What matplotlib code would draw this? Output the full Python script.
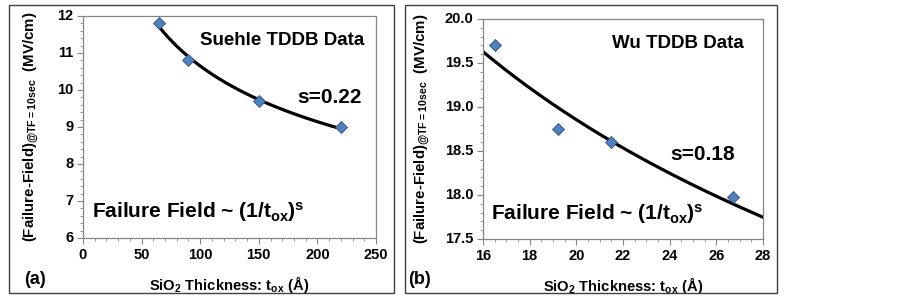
import numpy as np
import matplotlib.pyplot as plt
from matplotlib.patches import Rectangle
from matplotlib.ticker import MultipleLocator

# panel (a) - Suehle TDDB data
suehle_tox = [65, 90, 150, 220]
suehle_field = [11.8, 10.8, 9.7, 9.0]

# panel (b) - Wu TDDB data
wu_tox = [16.5, 19.2, 21.5, 26.7]
wu_field = [19.7, 18.75, 18.6, 17.98]

plt.rcParams["font.family"] = "Liberation Sans"
plt.rcParams["font.weight"] = "bold"
plt.rcParams["mathtext.default"] = "regular"

W, H = 903, 297
fig = plt.figure(figsize=(W / 100, H / 100), dpi=100)

blue = "#4f81bd"
grey = "#868686"


def px_axes(x0, y0, x1, y1):
    return fig.add_axes([x0 / W, 1 - y1 / H, (x1 - x0) / W, (y1 - y0) / H])


def style(ax, fmt):
    for s in ax.spines.values():
        s.set_color(grey)
        s.set_linewidth(0.9)
    ax.tick_params(which="major", direction="out", length=4, color=grey,
                   labelbottom=False, labelleft=False)
    ax.tick_params(which="minor", direction="out", length=2.5, color=grey)
    # bold tick labels drawn as text at the tick positions
    x0, x1 = ax.get_xlim()
    for v in ax.get_xticks():
        if x0 <= v <= x1:
            ax.annotate("%g" % v, (v, 0), xycoords=("data", "axes fraction"),
                        xytext=(0, -7), textcoords="offset points",
                        ha="center", va="top", fontsize=10.5, fontweight="bold")
    y0, y1 = ax.get_ylim()
    for v in ax.get_yticks():
        if y0 <= v <= y1:
            ax.annotate(fmt % v, (0, v), xycoords=("axes fraction", "data"),
                        xytext=(-7, 0), textcoords="offset points",
                        ha="right", va="center", fontsize=10.5, fontweight="bold")


def power_fit(x, y, xs):
    k, c = np.polyfit(np.log(x), np.log(y), 1)
    return np.exp(c) * xs ** k


# panel borders
fig.patches.append(Rectangle((9 / W, 1 - 293 / H), (394 - 9) / W, (293 - 5) / H,
                             transform=fig.transFigure, fill=False,
                             edgecolor="#404040", linewidth=1.0))
fig.patches.append(Rectangle((405 / W, 1 - 293 / H), (777 - 405) / W, (293 - 5) / H,
                             transform=fig.transFigure, fill=False,
                             edgecolor="#404040", linewidth=1.0))

ylab = r"(Failure-Field)$_{@TF = 10sec}$  (MV/cm)"
xlab = r"SiO$_{2}$ Thickness: t$_{ox}$ (Å)"
law = r"Failure Field ~ (1/t$_{ox}$)$^{s}$"

# ---- panel (a)
ax1 = px_axes(83, 16, 376, 238)
xs = np.linspace(min(suehle_tox), max(suehle_tox), 200)
ax1.plot(xs, power_fit(suehle_tox, suehle_field, xs), color="black", lw=2.3, zorder=2)
ax1.plot(suehle_tox, suehle_field, "D", color=blue, mec="#2f4f7f", mew=0.6, ms=6.5, zorder=3)
ax1.set_xlim(0, 250)
ax1.set_ylim(6, 12)
ax1.xaxis.set_major_locator(MultipleLocator(50))
ax1.xaxis.set_minor_locator(MultipleLocator(10))
ax1.yaxis.set_major_locator(MultipleLocator(1))
ax1.yaxis.set_minor_locator(MultipleLocator(0.2))
style(ax1, "%g")
ax1.set_xlabel(xlab, fontsize=10.6, fontweight="bold", labelpad=20)
ax1.set_ylabel(ylab, fontsize=10.8, fontweight="bold", labelpad=24)
ax1.text(0.96, 0.87, "Suehle TDDB Data", transform=ax1.transAxes, ha="right",
         fontweight="bold", fontsize=13.5)
ax1.text(0.95, 0.61, "s=0.22", transform=ax1.transAxes, ha="right",
         fontweight="bold", fontsize=15)
ax1.text(0.03, 0.09, law, transform=ax1.transAxes, ha="left",
         fontweight="bold", fontsize=15)
fig.text(24 / W, 1 - 279 / H, "(a)", ha="left", va="center",
         fontweight="bold", fontsize=13)

# ---- panel (b)
ax2 = px_axes(483, 19, 763, 239)
xs = np.linspace(16, 28, 200)
ax2.plot(xs, power_fit(wu_tox, wu_field, xs), color="black", lw=2.3, zorder=2)
ax2.plot(wu_tox, wu_field, "D", color=blue, mec="#2f4f7f", mew=0.6, ms=6.5, zorder=3)
ax2.set_xlim(16, 28)
ax2.set_ylim(17.5, 20.0)
ax2.xaxis.set_major_locator(MultipleLocator(2))
ax2.xaxis.set_minor_locator(MultipleLocator(0.5))
ax2.yaxis.set_major_locator(MultipleLocator(0.5))
ax2.yaxis.set_minor_locator(MultipleLocator(0.1))
style(ax2, "%.1f")
ax2.set_xlabel(xlab, fontsize=10.6, fontweight="bold", labelpad=20)
ax2.set_ylabel(ylab, fontsize=10.8, fontweight="bold", labelpad=31)
ax2.text(0.93, 0.87, "Wu TDDB Data", transform=ax2.transAxes, ha="right",
         fontweight="bold", fontsize=13.5)
ax2.text(0.9, 0.36, "s=0.18", transform=ax2.transAxes, ha="right",
         fontweight="bold", fontsize=15)
ax2.text(0.03, 0.09, law, transform=ax2.transAxes, ha="left",
         fontweight="bold", fontsize=15)
fig.text(408 / W, 1 - 279 / H, "(b)", ha="left", va="center",
         fontweight="bold", fontsize=13)

fig.savefig("out.png", dpi=100)
